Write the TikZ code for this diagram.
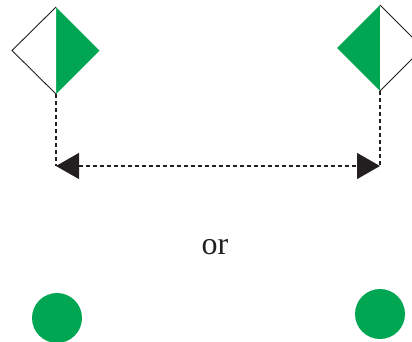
\documentclass[tikz,border=0pt]{standalone}
\usepackage{fontspec}
\setmainfont{Liberation Serif}
\usetikzlibrary{arrows.meta}
\definecolor{markgreen}{HTML}{00A651}
\definecolor{markink}{HTML}{231F20}
\begin{document}
\begin{tikzpicture}[x=1pt,y=-1pt,line join=miter,
  outline/.style={draw=markink,line width=0.9pt,fill=white},
  guide/.style={draw=markink,line width=1.1pt,dash pattern=on 4pt off 3pt},
  span/.style={guide,{Triangle[length=23pt,width=26pt]}-{Triangle[length=23pt,width=26pt]}},
  dot/.style={fill=markgreen}]
\useasboundingbox (0,0) rectangle (412,341);
\clip (0,0) rectangle (412,341);
% left mark: white half outlined, green half
\coordinate (lt) at (56,7);
\coordinate (ll) at (12,50.5);
\coordinate (lr) at (99.5,50.5);
\coordinate (lb) at (56,94);
\fill[markgreen] (lt) -- (lr) -- (lb) -- cycle;
\path[outline] (lt) -- (ll) -- (lb);
% right mark: green half, white half outlined
\coordinate (rt) at (380,5);
\coordinate (rl) at (337,48);
\coordinate (rr) at (423,48);
\coordinate (rb) at (380,91);
\fill[markgreen] (rt) -- (rl) -- (rb) -- cycle;
\path[outline] (rt) -- (rr) -- (rb);
% distance between the marks
\coordinate (la) at (56,166);
\coordinate (ra) at (380,166);
\path[guide] (lb) -- (la);
\path[guide] (rb) -- (ra);
\path[span] (la) -- (ra);
\node[font=\fontsize{32}{38}\selectfont,text=markink,inner sep=0pt] (or) at (215,247) {or};
% alternative round marks
\fill[dot] (57,318) circle (25);
\fill[dot] (380,314) circle (25);
\end{tikzpicture}
\end{document}
